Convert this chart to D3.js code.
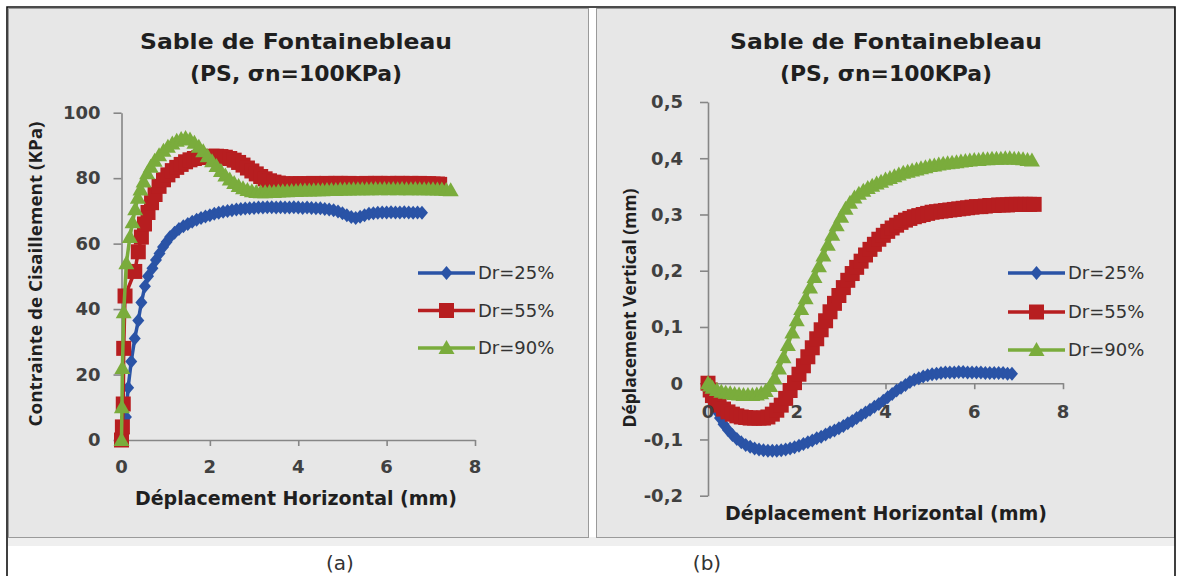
<!DOCTYPE html>
<html>
<head>
<meta charset="utf-8">
<script src="https://cdn.jsdelivr.net/npm/d3@7"></script>
<style>
  html, body { margin: 0; padding: 0; background: #ffffff; }
  svg { display: block; }
</style>
</head>
<body>
<svg id="fig" width="1182" height="576"></svg>
<script>
// ---- data ----------------------------------------------------------------
const seriesNames = ["Dr=25%", "Dr=55%", "Dr=90%"];
const titleLines = ["Sable de Fontainebleau", "(PS, \u03c3n=100KPa)"];
const xTitle = "D\u00e9placement Horizontal (mm)";
const shearTitle = "Contrainte de Cisaillement (KPa)";
const vertTitle = "D\u00e9placement Vertical (mm)";
const panelLabels = ["(a)", "(b)"];

const xTicks = [0, 2, 4, 6, 8];
const shearTicks = [0, 20, 40, 60, 80, 100];
const vertTicks = [-0.2, -0.1, 0, 0.1, 0.2, 0.3, 0.4, 0.5];

// shear stress (KPa) vs horizontal displacement (mm)
const shearDr25 = [
  [0,0],[0.05,2],[0.1,7],[0.15,16],[0.22,24],[0.3,31],[0.38,36.5],[0.45,42],[0.53,47],[0.6,50],
  [0.7,52.5],[0.78,55],[0.86,57],[0.94,59],[1.02,60.5],[1.1,62],[1.2,63.3],[1.3,64.5],[1.4,65.3],
  [1.5,66],[1.6,66.7],[1.7,67.3],[1.8,67.8],[1.9,68.3],[2,68.7],[2.1,69.1],[2.2,69.4],[2.3,69.7],
  [2.4,70],[2.5,70.2],[2.6,70.4],[2.7,70.6],[2.8,70.7],[2.9,70.8],[3,70.9],[3.1,71],[3.2,71],
  [3.3,71.1],[3.4,71.1],[3.5,71],[3.6,71.1],[3.7,71],[3.8,71],[3.9,71.1],[4,71],[4.1,70.9],
  [4.2,71],[4.3,70.9],[4.4,70.8],[4.5,70.8],[4.6,70.6],[4.7,70.4],[4.8,70.2],[4.9,69.8],[5,69.3],
  [5.1,68.7],[5.2,68.1],[5.3,67.8],[5.4,68.2],[5.5,68.7],[5.6,69.1],[5.7,69.3],[5.8,69.4],
  [5.9,69.5],[6,69.5],[6.1,69.6],[6.2,69.5],[6.3,69.5],[6.4,69.6],[6.5,69.5],[6.6,69.4],
  [6.7,69.5],[6.8,69.4]
];
const shearDr55 = [
  [0,0],[0.02,4],[0.04,11],[0.05,28],[0.08,44],[0.3,51.5],[0.38,57.5],[0.45,62],[0.52,66],
  [0.6,69.5],[0.68,72.5],[0.76,75],[0.85,77.5],[0.95,79.5],[1.05,81],[1.15,82.3],[1.25,83.3],
  [1.35,84.2],[1.45,85],[1.55,85.6],[1.65,86],[1.75,86.3],[1.85,86.5],[1.95,86.6],[2.05,86.7],
  [2.15,86.7],[2.25,86.6],[2.35,86.4],[2.45,86],[2.55,85.5],[2.65,84.8],[2.75,84],[2.85,83.1],
  [2.95,82.2],[3.05,81.3],[3.15,80.5],[3.25,79.8],[3.35,79.2],[3.45,78.8],[3.55,78.5],[3.65,78.3],
  [3.75,78.2],[3.85,78.2],[3.95,78.3],[4.05,78.3],[4.15,78.2],[4.25,78.3],[4.35,78.4],[4.45,78.3],
  [4.55,78.3],[4.65,78.4],[4.75,78.3],[4.85,78.4],[4.95,78.4],[5.05,78.3],[5.15,78.4],[5.25,78.3],
  [5.35,78.2],[5.45,78.3],[5.55,78.4],[5.65,78.3],[5.75,78.4],[5.85,78.4],[5.95,78.3],[6.05,78.4],
  [6.15,78.3],[6.25,78.4],[6.35,78.4],[6.45,78.3],[6.55,78.4],[6.65,78.3],[6.75,78.4],[6.85,78.3],
  [6.95,78.3],[7.05,78.2],[7.15,78.2],[7.2,78.1]
];
const shearDr90 = [
  [0,0],[0.01,10],[0.02,22],[0.05,39],[0.11,54],[0.19,62],[0.25,66.5],[0.31,70.5],[0.37,74],
  [0.43,76.5],[0.5,79],[0.58,81.5],[0.66,83.5],[0.75,85.3],[0.85,87],[0.95,88.4],[1.05,89.6],
  [1.15,90.6],[1.25,91.4],[1.35,92],[1.45,92.3],[1.55,91.8],[1.65,90.8],[1.75,89.6],[1.85,88.2],
  [1.95,86.7],[2.05,85.2],[2.15,83.7],[2.25,82.2],[2.35,80.8],[2.45,79.6],[2.55,78.5],[2.65,77.6],
  [2.75,76.9],[2.85,76.4],[2.95,76],[3.05,75.8],[3.15,75.7],[3.25,75.7],[3.35,75.8],[3.45,75.8],
  [3.55,75.9],[3.65,76],[3.75,76],[3.85,76.1],[3.95,76.1],[4.05,76.2],[4.15,76.2],[4.25,76.2],
  [4.35,76.3],[4.45,76.3],[4.55,76.3],[4.65,76.4],[4.75,76.4],[4.85,76.4],[4.95,76.5],[5.05,76.5],
  [5.15,76.5],[5.25,76.6],[5.35,76.6],[5.45,76.6],[5.55,76.6],[5.65,76.6],[5.75,76.7],[5.85,76.6],
  [5.95,76.7],[6.05,76.6],[6.15,76.7],[6.25,76.6],[6.35,76.7],[6.45,76.6],[6.55,76.6],[6.65,76.7],
  [6.75,76.6],[6.85,76.6],[6.95,76.6],[7.05,76.6],[7.15,76.5],[7.25,76.5],[7.35,76.4],[7.45,76.3]
];

// vertical displacement (mm) vs horizontal displacement (mm)
const vertDr25 = [
  [0,0],[0.05,-0.012],[0.1,-0.025],[0.15,-0.038],[0.2,-0.05],[0.27,-0.062],[0.35,-0.073],
  [0.45,-0.083],[0.55,-0.092],[0.65,-0.099],[0.75,-0.105],[0.85,-0.11],[0.95,-0.113],[1.05,-0.116],
  [1.15,-0.118],[1.25,-0.119],[1.35,-0.12],[1.45,-0.12],[1.55,-0.12],[1.65,-0.119],[1.75,-0.118],
  [1.85,-0.116],[1.95,-0.114],[2.05,-0.111],[2.15,-0.108],[2.25,-0.105],[2.35,-0.102],[2.45,-0.098],
  [2.55,-0.095],[2.65,-0.091],[2.75,-0.087],[2.85,-0.084],[2.95,-0.08],[3.05,-0.076],[3.15,-0.071],
  [3.25,-0.067],[3.35,-0.062],[3.45,-0.057],[3.55,-0.052],[3.65,-0.047],[3.75,-0.042],[3.85,-0.037],
  [3.95,-0.031],[4.05,-0.025],[4.15,-0.019],[4.25,-0.013],[4.35,-0.008],[4.45,-0.003],[4.55,0.002],
  [4.65,0.006],[4.75,0.009],[4.85,0.012],[4.95,0.014],[5.05,0.016],[5.15,0.017],[5.25,0.018],
  [5.35,0.019],[5.45,0.019],[5.55,0.019],[5.65,0.02],[5.75,0.02],[5.85,0.019],[5.95,0.019],
  [6.05,0.019],[6.15,0.019],[6.25,0.018],[6.35,0.018],[6.45,0.018],[6.55,0.018],[6.65,0.018],
  [6.75,0.017],[6.85,0.017]
];
const vertDr55 = [
  [0,0],[0.05,-0.012],[0.1,-0.022],[0.17,-0.031],[0.25,-0.039],[0.35,-0.046],[0.45,-0.051],
  [0.55,-0.055],[0.65,-0.058],[0.75,-0.06],[0.85,-0.061],[0.95,-0.062],[1.05,-0.062],[1.15,-0.062],
  [1.25,-0.062],[1.35,-0.06],[1.45,-0.055],[1.55,-0.048],[1.65,-0.039],[1.75,-0.027],[1.85,-0.013],
  [1.95,0.001],[2.05,0.016],[2.15,0.031],[2.25,0.047],[2.35,0.063],[2.45,0.079],[2.55,0.095],
  [2.65,0.111],[2.75,0.127],[2.85,0.142],[2.95,0.156],[3.05,0.17],[3.15,0.183],[3.25,0.195],
  [3.35,0.206],[3.45,0.217],[3.55,0.228],[3.65,0.238],[3.75,0.247],[3.85,0.256],[3.95,0.263],
  [4.05,0.27],[4.15,0.276],[4.25,0.281],[4.35,0.286],[4.45,0.29],[4.55,0.293],[4.65,0.296],
  [4.75,0.298],[4.85,0.3],[4.95,0.302],[5.05,0.304],[5.15,0.305],[5.25,0.306],[5.35,0.307],
  [5.45,0.308],[5.55,0.309],[5.65,0.31],[5.75,0.311],[5.85,0.312],[5.95,0.313],[6.05,0.314],
  [6.15,0.314],[6.25,0.315],[6.35,0.316],[6.45,0.316],[6.55,0.317],[6.65,0.317],[6.75,0.317],
  [6.85,0.318],[6.95,0.318],[7.05,0.318],[7.15,0.318],[7.25,0.318],[7.35,0.318]
];
const vertDr90 = [
  [0,0],[0.05,-0.004],[0.1,-0.008],[0.2,-0.012],[0.3,-0.015],[0.4,-0.017],[0.5,-0.018],
  [0.6,-0.019],[0.7,-0.02],[0.8,-0.021],[0.9,-0.021],[1,-0.021],[1.1,-0.02],[1.2,-0.018],
  [1.3,-0.014],[1.4,-0.005],[1.5,0.009],[1.6,0.026],[1.7,0.046],[1.8,0.068],[1.9,0.09],
  [2,0.112],[2.1,0.132],[2.2,0.151],[2.3,0.17],[2.4,0.189],[2.5,0.208],[2.6,0.227],[2.7,0.246],
  [2.8,0.264],[2.9,0.281],[3,0.296],[3.1,0.31],[3.2,0.321],[3.3,0.33],[3.4,0.337],[3.5,0.342],
  [3.6,0.347],[3.7,0.351],[3.8,0.355],[3.9,0.358],[4,0.362],[4.1,0.365],[4.2,0.368],[4.3,0.371],
  [4.4,0.374],[4.5,0.376],[4.6,0.378],[4.7,0.38],[4.8,0.382],[4.9,0.384],[5,0.386],[5.1,0.387],
  [5.2,0.389],[5.3,0.39],[5.4,0.391],[5.5,0.392],[5.6,0.393],[5.7,0.394],[5.8,0.395],[5.9,0.396],
  [6,0.397],[6.1,0.397],[6.2,0.398],[6.3,0.398],[6.4,0.399],[6.5,0.399],[6.6,0.399],[6.7,0.4],
  [6.8,0.4],[6.9,0.399],[7,0.399],[7.1,0.398],[7.2,0.397],[7.3,0.396]
];

// ---- styling -------------------------------------------------------------
const colors = ["#2a53a6", "#b71e20", "#7aac3c"];
const markerPaths = [
  "M0,-7L6,0L0,7L-6,0Z",              // diamond
  "M-7.5,-7.5H7.5V7.5H-7.5Z",         // square
  "M0,-8L8,6L-8,6Z"                   // triangle
];
const axisColor = "#868686";
const textColor = "#1f1f1f";
const tickFont = "'DejaVu Sans', Verdana, sans-serif";

const svg = d3.select("#fig");

// ---- frame & panels ------------------------------------------------------
svg.append("rect").attr("x", 8).attr("y", 537).attr("width", 1167).attr("height", 9)
  .attr("fill", "#efefef");
svg.append("rect").attr("x", 8.5).attr("y", 8.5).attr("width", 580).attr("height", 529)
  .attr("fill", "#e7e7e7").attr("stroke", "#9a9a9a").attr("stroke-width", 1);
svg.append("rect").attr("x", 596.5).attr("y", 8.5).attr("width", 578).attr("height", 529)
  .attr("fill", "#e7e7e7").attr("stroke", "#9a9a9a").attr("stroke-width", 1);
svg.append("path")
  .attr("d", "M7,600V7H1175V600")
  .attr("fill", "none").attr("stroke", "#111").attr("stroke-width", 1.6);

const label = svg.append("g")
  .style("font-family", tickFont).style("font-size", "20px").attr("fill", "#333");
label.append("text").attr("x", 340).attr("y", 563).attr("text-anchor", "middle")
  .attr("dy", "0.35em").text(panelLabels[0]);
label.append("text").attr("x", 707).attr("y", 563).attr("text-anchor", "middle")
  .attr("dy", "0.35em").text(panelLabels[1]);

// ---- chart builder -------------------------------------------------------
function drawChart(cfg) {
  const g = svg.append("g");
  const x = d3.scaleLinear().domain([0, 8]).range(cfg.xRange);
  const y = d3.scaleLinear().domain(cfg.yDomain).range(cfg.yRange);

  // two-line title
  const titleLens = [312, 212];
  titleLines.forEach((t, i) => {
    g.append("text").attr("x", cfg.cx).attr("y", 41 + i * 32)
      .attr("text-anchor", "middle").attr("dy", "0.35em")
      .attr("textLength", titleLens[i]).attr("lengthAdjust", "spacingAndGlyphs")
      .style("font-family", tickFont).style("font-weight", "bold").style("font-size", "22px")
      .attr("fill", textColor).text(t);
  });

  // axis lines (beneath the series)
  const yAxis = d3.axisLeft(y).tickValues(cfg.yTicks).tickSize(8).tickSizeOuter(0)
    .tickPadding(cfg.yPad).tickFormat(cfg.yFmt);
  const xAxis = d3.axisBottom(x).tickValues(xTicks).tickSize(6).tickSizeOuter(0)
    .tickPadding(cfg.xPad).tickFormat(d3.format("d"));

  const gy = g.append("g").attr("transform", `translate(${x(0)},0)`).call(yAxis);
  const gx = g.append("g").attr("transform", `translate(0,${y(0)})`).call(xAxis);
  [gy, gx].forEach(ax => {
    ax.select(".domain").attr("stroke", axisColor).attr("stroke-width", 1.6);
    ax.selectAll(".tick line").attr("stroke", axisColor).attr("stroke-width", 1.6);
    ax.selectAll(".tick text").remove();
  });

  // series: thick line with dense markers
  const line = d3.line().x(d => x(d[0])).y(d => y(d[1]));
  cfg.series.forEach((data, i) => {
    const s = g.append("g");
    s.append("path").datum(data).attr("d", line)
      .attr("fill", "none").attr("stroke", colors[i]).attr("stroke-width", 3.5);
    s.selectAll("path.m").data(data).join("path").attr("class", "m")
      .attr("d", markerPaths[i])
      .attr("transform", d => `translate(${x(d[0])},${y(d[1])})`)
      .attr("fill", colors[i]);
  });

  // tick labels above the series
  const lbl = g.append("g").style("font-family", tickFont).style("font-weight", "bold")
    .style("font-size", "18px").attr("fill", "#404040");
  cfg.yTicks.forEach(v => {
    lbl.append("text").attr("x", x(0) - 8 - cfg.yPad).attr("y", y(v))
      .attr("dy", "0.35em").attr("text-anchor", "end").text(cfg.yFmt(v));
  });
  xTicks.forEach(v => {
    lbl.append("text").attr("x", x(v)).attr("y", y(0) + cfg.xLabelOffset)
      .attr("dy", "0.35em").attr("text-anchor", "middle").text(v);
  });

  // axis titles
  g.append("text").attr("x", cfg.cx).attr("y", cfg.xTitleY).attr("dy", "0.35em")
    .attr("text-anchor", "middle")
    .style("font-family", tickFont).style("font-weight", "bold").style("font-size", "19px")
    .attr("fill", textColor).text(xTitle);
  g.append("text")
    .attr("transform", `translate(${cfg.yTitleX},${cfg.yTitleY}) rotate(-90)`)
    .attr("dy", "0.35em").attr("text-anchor", "middle")
    .attr("textLength", cfg.yTitleLen).attr("lengthAdjust", "spacingAndGlyphs")
    .style("font-family", "'Open Sans', sans-serif").style("font-weight", "bold")
    .style("font-size", "17px").attr("fill", textColor).text(cfg.yTitle);

  // legend
  seriesNames.forEach((name, i) => {
    const ly = cfg.legendY[i];
    const lg = g.append("g");
    lg.append("line").attr("x1", cfg.legendX).attr("x2", cfg.legendX + 57)
      .attr("y1", ly).attr("y2", ly).attr("stroke", colors[i]).attr("stroke-width", 3.5);
    lg.append("path").attr("d", markerPaths[i])
      .attr("transform", `translate(${cfg.legendX + 28.5},${ly})`).attr("fill", colors[i]);
    lg.append("text").attr("x", cfg.legendX + 60).attr("y", ly).attr("dy", "0.35em")
      .style("font-family", tickFont).style("font-size", "18px").attr("fill", "#333")
      .text(name);
  });
}

const fmtComma = v => v === 0 ? "0" : v.toFixed(1).replace(".", ",");

drawChart({
  cx: 296,
  xRange: [121.5, 475],
  yDomain: [0, 100], yRange: [440, 112.7],
  yTicks: shearTicks, yFmt: d3.format("d"), yPad: 13,
  xPad: 14, xLabelOffset: 27,
  xTitleY: 498,
  yTitle: shearTitle, yTitleX: 36, yTitleY: 274, yTitleLen: 305,
  legendX: 418, legendY: [273, 310.5, 348],
  series: [shearDr25, shearDr55, shearDr90]
});

drawChart({
  cx: 886,
  xRange: [708, 1063],
  yDomain: [-0.2, 0.5], yRange: [495.7, 102],
  yTicks: vertTicks, yFmt: fmtComma, yPad: 17,
  xPad: 14, xLabelOffset: 28,
  xTitleY: 513,
  yTitle: vertTitle, yTitleX: 630, yTitleY: 308, yTitleLen: 239,
  legendX: 1008, legendY: [273, 312, 350],
  series: [vertDr25, vertDr55, vertDr90]
});
</script>
</body>
</html>
